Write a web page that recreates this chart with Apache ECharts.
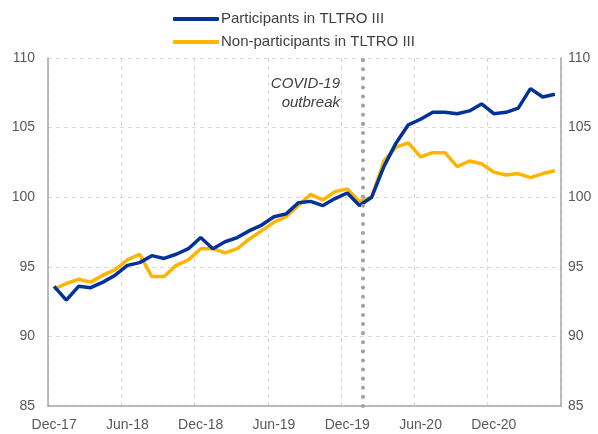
<!DOCTYPE html>
<html>
<head>
<meta charset="utf-8">
<script src="https://cdn.jsdelivr.net/npm/echarts@6/dist/echarts.min.js"></script>
<style>
    html, body { margin: 0; padding: 0; background: #fff; }
    #chart { width: 598px; height: 434px; }
</style>
</head>
<body>
<div id="chart"></div>
<script>
// months, Dec-17 .. May-21
const months = [
    'Dec-17', 'Jan-18', 'Feb-18', 'Mar-18', 'Apr-18', 'May-18',
    'Jun-18', 'Jul-18', 'Aug-18', 'Sep-18', 'Oct-18', 'Nov-18',
    'Dec-18', 'Jan-19', 'Feb-19', 'Mar-19', 'Apr-19', 'May-19',
    'Jun-19', 'Jul-19', 'Aug-19', 'Sep-19', 'Oct-19', 'Nov-19',
    'Dec-19', 'Jan-20', 'Feb-20', 'Mar-20', 'Apr-20', 'May-20',
    'Jun-20', 'Jul-20', 'Aug-20', 'Sep-20', 'Oct-20', 'Nov-20',
    'Dec-20', 'Jan-21', 'Feb-21', 'Mar-21', 'Apr-21', 'May-21'
];
const participants = [
    93.6, 92.6, 93.6, 93.5, 93.9, 94.4, 95.1, 95.3, 95.8, 95.6, 95.9, 96.3,
    97.1, 96.3, 96.8, 97.1, 97.6, 98.0, 98.6, 98.8, 99.6, 99.7, 99.4, 99.9,
    100.3, 99.4, 100.0, 102.2, 103.9, 105.2, 105.6, 106.1, 106.1, 106.0, 106.2, 106.7,
    106.0, 106.1, 106.4, 107.8, 107.2, 107.4
];
const nonParticipants = [
    93.4, 93.8, 94.1, 93.9, 94.4, 94.8, 95.5, 95.9, 94.3, 94.3, 95.1, 95.5,
    96.3, 96.3, 96.0, 96.3, 97.0, 97.6, 98.2, 98.6, 99.4, 100.2, 99.8, 100.4,
    100.6, 99.7, 100.0, 102.6, 103.6, 103.9, 102.9, 103.2, 103.2, 102.2, 102.6, 102.4,
    101.8, 101.6, 101.7, 101.4, 101.7, 101.9
];
const seriesNames = ['Participants in TLTRO III', 'Non-participants in TLTRO III'];
// position of the COVID-19 line, in months from start of Dec-17
const covidPos = 25.75;

let myChart = echarts.init(document.getElementById('chart'));
const font = 'Liberation Sans, Arial, sans-serif';
const axisGray = '#a6a6a6';
const labelGray = '#595959';

let option = {
    animation: false,
    textStyle: { fontFamily: font },
    legend: {
        orient: 'vertical',
        left: 168,
        top: 6,
        itemWidth: 46,
        itemHeight: 4,
        itemGap: 7,
        icon: 'roundRect',
        textStyle: { color: '#404040', fontSize: 15, lineHeight: 16, fontFamily: font, padding: [0, 0, 0, -3] },
        data: seriesNames
    },
    grid: { left: 48, right: 37, top: 58, bottom: 28 },
    xAxis: [
        {
            type: 'category',
            data: months,
            boundaryGap: true,
            axisLine: { lineStyle: { color: axisGray, width: 1.5 } },
            axisTick: { interval: 5, length: 4, lineStyle: { color: axisGray } },
            axisLabel: { interval: 5, color: labelGray, fontSize: 14, margin: 12 },
            splitLine: { show: true, interval: 5, lineStyle: { color: '#d9d9d9', type: [4, 4] } }
        },
        {
            type: 'value',
            min: 0,
            max: months.length,
            show: false
        }
    ],
    yAxis: [
        {
            type: 'value',
            min: 85, max: 110, interval: 5,
            axisLine: { show: true, lineStyle: { color: axisGray, width: 1.5 } },
            axisTick: { show: false },
            axisLabel: { color: labelGray, fontSize: 14, margin: 13 },
            splitLine: { lineStyle: { color: '#d9d9d9', type: [4, 4] } }
        },
        {
            type: 'value',
            min: 85, max: 110, interval: 5,
            position: 'right',
            axisLine: { show: true, lineStyle: { color: axisGray, width: 1.5 } },
            axisTick: { show: false },
            axisLabel: { color: labelGray, fontSize: 14, margin: 7 },
            splitLine: { show: false }
        }
    ],
    series: [
        {
            name: seriesNames[0],
            type: 'line',
            data: participants,
            symbol: 'none',
            color: '#003299',
            lineStyle: { width: 3.5, color: '#003299' },
            z: 3
        },
        {
            name: seriesNames[1],
            type: 'line',
            data: nonParticipants,
            symbol: 'none',
            color: '#ffb400',
            lineStyle: { width: 3.5, color: '#ffb400' },
            z: 2
        },
        {
            name: 'covid',
            type: 'line',
            xAxisIndex: 1,
            data: [],
            markLine: {
                silent: true,
                symbol: 'none',
                label: { show: false },
                lineStyle: { color: '#a0a0a0', width: 4, type: [0.1, 9], cap: 'round' },
                data: [{ xAxis: covidPos }]
            },
            z: 1
        }
    ],
    graphic: [
        {
            type: 'text',
            x: 340,
            y: 74,
            style: {
                text: 'COVID-19\noutbreak',
                align: 'right',
                verticalAlign: 'top',
                fontStyle: 'italic',
                fontSize: 15,
                lineHeight: 19,
                fontFamily: font,
                fill: '#404040'
            }
        }
    ]
};
myChart.setOption(option, true);
</script>
</body>
</html>
